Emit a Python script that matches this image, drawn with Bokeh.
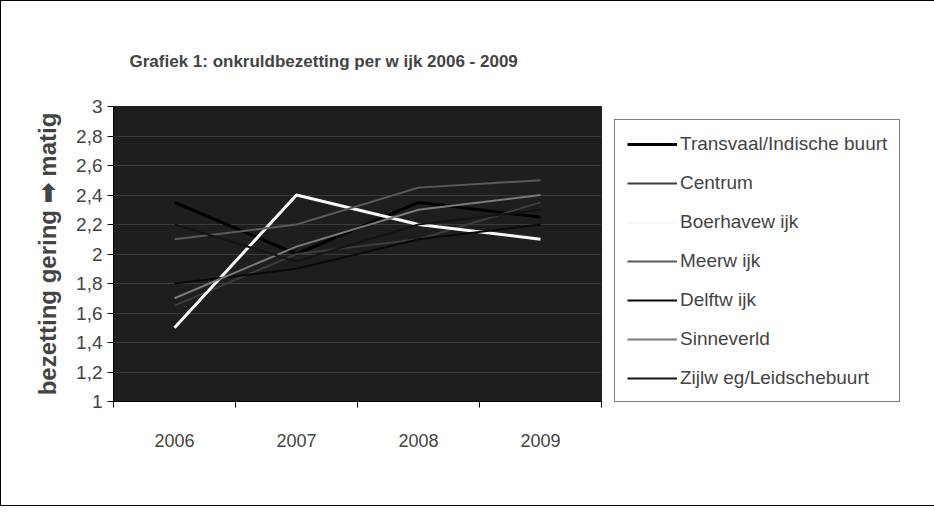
from bokeh.plotting import figure
from bokeh.models import (Range1d, LinearAxis, FixedTicker,
                          CustomJSTickFormatter, Legend, LegendItem, Title)
from bokeh.embed import file_html
from bokeh.resources import INLINE

# ---- data ----
years = ["2006", "2007", "2008", "2009"]
transvaal = [2.35, 2.0, 2.35, 2.25]
centrum = [1.65, 2.0, 2.1, 2.35]
boerhavewijk = [1.5, 2.4, 2.2, 2.1]
meerwijk = [2.1, 2.2, 2.45, 2.5]
delftwijk = [1.8, 1.9, 2.1, 2.2]
sinneverld = [1.7, 2.05, 2.3, 2.4]
zijlweg = [2.2, 1.95, 2.2, 2.3]
y_ticks = [1.0, 1.2, 1.4, 1.6, 1.8, 2.0, 2.2, 2.4, 2.6, 2.8, 3.0]

series = [
    ("Transvaal/Indische buurt", transvaal, "#000000", 3),
    ("Centrum", centrum, "#3c3c3c", 2),
    ("Boerhavew ijk", boerhavewijk, "#f8f8f8", 3),
    ("Meerw ijk", meerwijk, "#5a5a5a", 2),
    ("Delftw ijk", delftwijk, "#0a0a0a", 2),
    ("Sinneverld", sinneverld, "#7a7a7a", 2),
    ("Zijlw eg/Leidschebuurt", zijlweg, "#141414", 2),
]

# category slots: centres at i + 0.5, boundaries at integers
x_pos = [i + 0.5 for i in range(len(years))]
boundaries = list(range(len(years) + 1))

FONT = "Liberation Sans"

p = figure(frame_width=488, frame_height=295, x_range=Range1d(0, len(years)), y_range=Range1d(1, 3),
           output_backend="svg", toolbar_location=None, x_axis_location=None,
           min_border_left=112, min_border_right=0, min_border_top=105, min_border_bottom=104,
           background_fill_color="#1e1e1e", border_fill_color="white",
           outline_line_color="#1e1e1e")
p.styles = {"border": "1px solid black"}

p.title = Title(text="Grafiek 1: onkruldbezetting per w ijk 2006 - 2009",
                text_font=FONT, text_font_size="17px", text_font_style="bold",
                align="left", offset=16, standoff=72)

# y axis
ya = p.yaxis[0]
ya.ticker = FixedTicker(ticks=y_ticks)
ya.formatter = CustomJSTickFormatter(code="return (Math.round(tick*10)/10).toString().replace('.', ',');")
ya.major_label_text_font = FONT
ya.major_label_text_font_size = "19px"
ya.major_tick_out = 6
ya.major_tick_in = 0
ya.minor_tick_line_color = None
ya.major_label_standoff = 5
ya.axis_line_color = "black"
ya.axis_label = "bezetting gering \u27a1 matig"
ya.axis_label_text_font = FONT
ya.axis_label_text_font_size = "24px"
ya.axis_label_text_font_style = "bold"
ya.axis_label_standoff = 12

p.ygrid.ticker = FixedTicker(ticks=y_ticks)
p.ygrid.grid_line_color = "#3a3a3a"
p.xgrid.grid_line_color = None

# x axis: ticks at category boundaries, labels at centres
tick_axis = LinearAxis(ticker=FixedTicker(ticks=boundaries),
                       formatter=CustomJSTickFormatter(code="return '';"),
                       major_tick_out=6, major_tick_in=0,
                       minor_tick_line_color=None, axis_line_color="black", major_label_standoff=0)
p.add_layout(tick_axis, "below")
label_axis = LinearAxis(ticker=FixedTicker(ticks=x_pos),
                        major_label_overrides={x: y for x, y in zip(x_pos, years)},
                        axis_line_color=None, major_tick_line_color=None,
                        minor_tick_line_color=None, major_label_standoff=20,
                        major_label_text_font=FONT, major_label_text_font_size="18px")
p.add_layout(label_axis, "below")

items = []
for name, vals, color, w in series:
    r = p.line(x=x_pos, y=vals, line_color=color, line_width=w)
    items.append(LegendItem(label=name, renderers=[r]))

legend = Legend(items=items, location="top_left", label_text_font=FONT, label_text_font_size="19px",
                glyph_width=50, label_standoff=3, label_height=23, spacing=16, padding=12,
                border_line_color="black", border_line_width=1, background_fill_color="white",
                background_fill_alpha=1, margin=13)
p.add_layout(legend, "right")

open("out.html", "w").write(file_html(p, INLINE))
